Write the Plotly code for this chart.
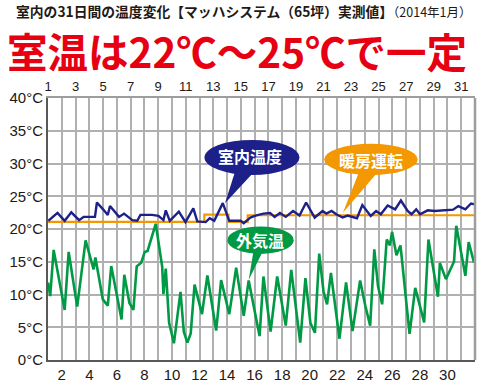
import plotly.graph_objects as go

# ---- data ----
days_in = [1.02, 1.69, 2.21, 2.69, 3.26, 3.59, 4.41, 4.55, 5.0, 5.34, 5.5, 6.16, 6.52, 7.12, 7.48, 7.71,
           8.55, 9.02, 9.38, 9.55, 9.84, 10.5, 10.98, 11.55, 11.84, 12.45, 12.74, 13.07, 13.69, 14.16,
           14.98, 15.21, 15.69, 16.07, 16.64, 17.12, 17.45, 17.84, 18.26, 18.79, 19.26, 19.74, 20.36,
           20.93, 21.21, 21.59, 21.93, 22.39, 22.75, 23.43, 23.82, 24.43, 24.82, 25.16, 25.66, 26.2,
           26.62, 27.11, 27.39, 27.73, 28.01, 28.57, 29.06, 29.74, 30.41, 30.79, 31.3, 31.71, 32.0]
temp_in = [21.25, 22.45, 21.25, 22.55, 21.35, 21.85, 21.85, 24.05, 23.0, 22.15, 23.5, 21.85, 22.35, 21.35,
           21.25, 22.15, 22.15, 22.0, 21.35, 22.85, 21.25, 22.65, 21.05, 23.15, 21.15, 21.05, 21.65,
           21.25, 23.95, 21.25, 21.25, 20.9, 21.75, 22.05, 22.35, 22.45, 21.85, 22.45, 21.85, 22.75,
           22.05, 24.05, 21.75, 22.75, 22.35, 22.75, 22.25, 21.75, 22.05, 21.65, 23.65, 22.0, 22.75,
           22.25, 23.6, 23.0, 24.35, 22.75, 22.25, 23.0, 22.25, 22.85, 22.75, 22.85, 22.95, 23.5,
           23.0, 23.9, 23.75]

days_out = [1.0, 1.16, 1.41, 2.21, 2.5, 3.12, 3.73, 4.31, 4.44, 4.98, 5.34, 5.59, 6.34, 6.54, 6.91, 7.2,
            7.44, 7.77, 8.02, 8.23, 8.82, 9.16, 9.29, 9.38, 9.55, 9.79, 10.14, 10.62, 10.86, 11.12,
            11.36, 11.64, 12.18, 12.57, 13.21, 13.57, 14.16, 14.66, 15.21, 15.57, 16.36, 16.64, 17.16,
            17.64, 18.26, 18.66, 19.31, 19.69, 20.05, 20.38, 20.69, 21.0, 21.26, 21.54, 22.16, 22.64,
            23.11, 23.66, 24.04, 24.39, 24.69, 24.96, 25.26, 25.59, 25.82, 25.98, 26.3, 26.59, 27.25,
            27.66, 28.31, 28.62, 29.31, 29.45, 29.89, 30.48, 30.64, 31.3, 31.54, 31.93]
temp_out = [11.85, 9.75, 16.8, 7.65, 16.5, 8.15, 18.25, 13.85, 15.65, 9.25, 8.3, 14.35, 6.2, 13.0, 8.7, 7.65,
            14.3, 14.85, 16.5, 16.65, 20.8, 15.45, 14.25, 10.05, 13.95, 5.7, 2.55, 10.4, 4.3, 2.65,
            4.05, 11.5, 7.0, 12.9, 4.5, 12.2, 7.0, 14.1, 6.75, 12.15, 3.65, 12.75, 4.35,
            12.75, 5.25, 13.75, 2.65, 12.5, 5.65, 4.15, 16.25, 10.5, 8.5, 13.3, 3.25, 11.85,
            4.4, 12.15, 8.25, 5.25, 16.9, 11.25, 8.5, 18.4, 17.5, 19.55, 16.0, 17.5, 4.0,
            11.0, 5.75, 18.4, 9.65, 14.8, 12.35, 15.05, 20.5, 12.85, 18.0, 14.85]

heat_days = [1, 12.35, 14.1, 15.5, 32]
heat_temp = [21.1, 22.2, 21.1, 22.1, 22.1]

y_ticks = [0, 5, 10, 15, 20, 25, 30, 35, 40]
y_labels = [f"{v}°C" for v in y_ticks]
top_days = list(range(1, 32, 2))
bottom_days = list(range(2, 31, 2))

title1 = "<b>室内の31日間の温度変化【マッハシステム（65坪）実測値】</b><span style='font-size:12.5px'>（2014年1月）</span>"
title2 = "<b>室温は22℃～25℃で一定</b>"
label_in = "室内温度"
label_heat = "暖房運転"
label_out = "外気温"

NAVY = "#1d2088"
GREEN = "#009944"
ORANGE = "#f39800"
RED = "#e60012"
TXT = "#231815"
GRID = "#b0b0b0"
CJK = "Noto Sans CJK JP"
LAT = "Liberation Sans"

fig = go.Figure()
fig.add_trace(go.Scatter(x=heat_days, y=heat_temp, mode="lines", line=dict(color=ORANGE, width=2.2, shape="hv"),
                         hoverinfo="skip"))
fig.add_trace(go.Scatter(x=days_in, y=temp_in, mode="lines", line=dict(color=NAVY, width=2.4)))
fig.add_trace(go.Scatter(x=days_out, y=temp_out, mode="lines", line=dict(color=GREEN, width=2.6),
                         xaxis="x2"))

fig.update_layout(
    width=484, height=392,
    margin=dict(l=41, r=9, t=98, b=27),
    paper_bgcolor="white", plot_bgcolor="white",
    showlegend=False,
    xaxis=dict(range=[1, 32], tickvals=bottom_days, ticktext=[str(d) for d in bottom_days],
               showgrid=True, gridcolor=GRID, gridwidth=1.5, zeroline=False,
               showline=True, linecolor="#595757", linewidth=2, ticks="",
               tickfont=dict(family=LAT, size=15, color=TXT)),
    xaxis2=dict(range=[1, 32], overlaying="x", side="top", anchor="y", tickvals=top_days,
                ticktext=[str(d) for d in top_days],
                showgrid=True, gridcolor=GRID, gridwidth=1.5, zeroline=False,
                showline=True, linecolor="#9d9d9d", linewidth=2, ticks="",
                tickfont=dict(family=LAT, size=13, color=TXT)),
    yaxis=dict(range=[0, 40], tickvals=y_ticks, ticktext=y_labels,
               showgrid=True, gridcolor=GRID, gridwidth=1.5, zeroline=False,
               showline=True, linecolor="#595757", linewidth=2, ticks="",
               tickfont=dict(family=LAT, size=15, color=TXT)),
)

shapes = [
    dict(type="line", xref="paper", yref="paper", x0=1, x1=1, y0=0, y1=1,
         line=dict(color="#9d9d9d", width=2.5)),
    dict(type="circle", xref="x", yref="y", x0=12.36, x1=19.26, y0=28.25, y1=33.6,
         fillcolor=NAVY, line=dict(width=0)),
    dict(type="path", xref="x", yref="y", path="M 14.6,28.9 L 13.85,23.95 L 15.9,28.6 Z",
         fillcolor=NAVY, line=dict(width=0)),
    dict(type="circle", xref="x", yref="y", x0=21.05, x1=27.84, y0=28.25, y1=33.0,
         fillcolor=ORANGE, line=dict(width=0)),
    dict(type="path", xref="x", yref="y", path="M 23.6,28.8 L 22.41,22.5 L 24.9,28.6 Z",
         fillcolor=ORANGE, line=dict(width=0)),
    dict(type="circle", xref="x", yref="y", x0=14.02, x1=18.84, y0=16.2, y1=20.4,
         fillcolor=GREEN, line=dict(width=0)),
    dict(type="path", xref="x", yref="y", path="M 15.93,16.8 L 15.57,12.2 L 16.64,16.8 Z",
         fillcolor=GREEN, line=dict(width=0)),
]
fig.update_layout(shapes=shapes)

annotations = [
    dict(text=title1, xref="paper", yref="paper", x=(6 - 41) / 434, y=(365 - 9) / 267,
         xanchor="left", yanchor="middle", showarrow=False,
         font=dict(family=CJK, size=13.8, color=TXT)),
    dict(text=title2, xref="paper", yref="paper", x=(233 - 41) / 434, y=(365 - 50) / 267,
         xanchor="center", yanchor="middle", showarrow=False,
         font=dict(family=CJK, size=40.5, color=RED)),
    dict(text="<b>" + label_in + "</b>", xref="x", yref="y", x=15.64, y=31.1, showarrow=False,
         font=dict(family=CJK, size=16, color="white")),
    dict(text="<b>" + label_heat + "</b>", xref="x", yref="y", x=24.45, y=30.6, showarrow=False,
         font=dict(family=CJK, size=16, color="white")),
    dict(text="<b>" + label_out + "</b>", xref="x", yref="y", x=16.36, y=18.35, showarrow=False,
         font=dict(family=CJK, size=16, color="white")),
]
fig.update_layout(annotations=annotations)

# remove the browser's default 8px body margin so the figure sits at the window's corner
fig.write_html("out.html", config={"displayModeBar": False},
               post_script="document.body.style.margin='0px';")
